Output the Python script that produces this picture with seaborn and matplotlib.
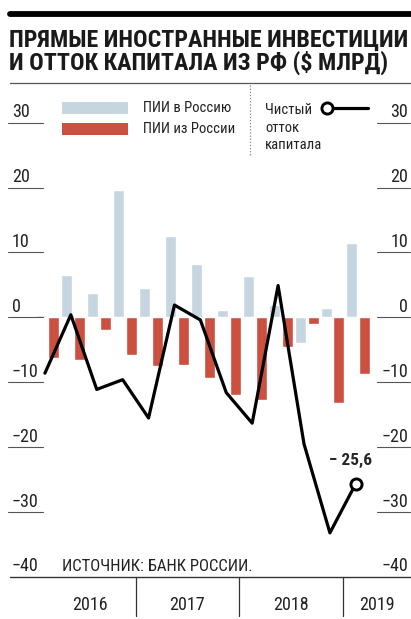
import numpy as np
import pandas as pd
import matplotlib
matplotlib.use("Agg")
import matplotlib.pyplot as plt
import matplotlib.transforms as mtransforms
from matplotlib.lines import Line2D
from matplotlib.patches import Rectangle
import seaborn as sns

# --- data ($ bn, quarterly, Bank of Russia) ---------------------------------
quarters = ["I.16", "II.16", "III.16", "IV.16",
            "I.17", "II.17", "III.17", "IV.17",
            "I.18", "II.18", "III.18", "IV.18",
            "I.19"]
years = ["2016", "2017", "2018", "2019"]
quarters_per_year = [4, 4, 4, 1]
fdi_in = [0.3, 6.5, 3.7, 19.7, 4.5, 12.5, 8.2, 1.2, 6.3, 1.9, -3.9, 1.4, 11.5]
fdi_out = [-6.3, -6.6, -1.9, -5.8, -7.5, -7.3, -9.3, -11.9, -12.8, -4.6, -1.0, -13.2, -8.8]
net_outflow = [-8.6, 0.4, -11.1, -9.6, -15.5, 1.9, -0.4, -11.6, -16.3, 4.9, -19.5, -33.2, -25.6]
yticks = [30, 20, 10, 0, -10, -20, -30, -40]

LBL_IN = "ПИИ в Россию"
LBL_OUT = "ПИИ из России"
BLUE = "#c6d6e0"
RED = "#cb5040"
GREY = "#555555"
LINE_SHIFT = -0.1

sns.set_theme(style="white")
plt.rcParams["font.family"] = ["Roboto Condensed", "DejaVu Sans"]

W, H = 411, 619
fig = plt.figure(figsize=(W / 100, H / 100), dpi=100)
fx = lambda px: px / W
fy = lambda py: 1 - py / H

ax = fig.add_axes([0, fy(577), 1, (577 - 85) / H])

df = pd.DataFrame({"quarter": quarters * 2,
                   "kind": [LBL_IN] * len(quarters) + [LBL_OUT] * len(quarters),
                   "value": fdi_in + fdi_out})
sns.barplot(data=df, x="quarter", y="value", hue="kind", hue_order=[LBL_IN, LBL_OUT],
            palette=[BLUE, RED], saturation=1, width=1.0, gap=0.15,
            legend=False, ax=ax)

xq = np.arange(len(quarters)) + LINE_SHIFT
sns.lineplot(x=xq, y=net_outflow, color="black", lw=2.3, ax=ax)
ax.plot(xq[-1], net_outflow[-1], "o", ms=8, mfc="white", mec="black", mew=2.1, zorder=5)
ax.annotate(f"− {abs(net_outflow[-1]):.1f}".replace(".", ","), (xq[-1], net_outflow[-1]),
            xytext=(-4, 13), textcoords="offset points", ha="center",
            fontsize=12.5, fontweight="bold")

ax.set_xlim(-1.834, 14.03)
ax.set_ylim(-40, 35.8)
ax.axis("off")

# --- y tick labels with short underlines on both sides ----------------------
tr = mtransforms.blended_transform_factory(fig.transFigure, ax.transData)
tr_txt = mtransforms.offset_copy(tr, fig=fig, y=4, units="points")
for v in yticks:
    s = f"−{abs(v)}" if v < 0 else str(v)
    ax.text(fx(12), v, s, transform=tr_txt, ha="left", va="baseline", fontsize=13, color="#222222")
    ax.text(fx(408), v, s, transform=tr_txt, ha="right", va="baseline", fontsize=13, color="#222222")
    if v != -40:
        ax.plot([fx(8), fx(43)], [v, v], transform=tr, color=GREY, lw=0.8, clip_on=False)
        ax.plot([fx(377), fx(410)], [v, v], transform=tr, color=GREY, lw=0.8, clip_on=False)

# --- header -----------------------------------------------------------------
fig.add_artist(Line2D([fx(10), 1], [fy(14), fy(14)], color="black", lw=4.2))
fig.text(fx(9), fy(47), "ПРЯМЫЕ ИНОСТРАННЫЕ ИНВЕСТИЦИИ", fontsize=17.3, fontweight="bold",
         va="baseline", color="#1a1a1a")
fig.text(fx(9), fy(70), "И ОТТОК КАПИТАЛА ИЗ РФ ($ МЛРД)", fontsize=17.3, fontweight="bold",
         va="baseline", color="#1a1a1a")
fig.add_artist(Line2D([fx(10), 1], [fy(83), fy(83)], color=GREY, lw=0.9))

# legend
for top, col, lbl in [(102, BLUE, LBL_IN), (123, RED, LBL_OUT)]:
    fig.add_artist(Rectangle((fx(62), fy(top + 12)), 66 / W, 12 / H,
                             transform=fig.transFigure, color=col, lw=0))
    fig.text(fx(143), fy(top + 6), lbl, fontsize=10.5, va="center", color="#222222")
fig.add_artist(Line2D([fx(250), fx(250)], [fy(85), fy(156)], color="#888888",
                      lw=0.9, ls=(0, (1, 1.5))))
for py, word in [(114, "Чистый"), (131.5, "отток"), (149, "капитала")]:
    fig.text(fx(265), fy(py), word, fontsize=10.5, va="baseline", color="#222222")
fig.add_artist(Line2D([fx(333), fx(368)], [fy(108), fy(108)], color="black", lw=2.3))
fig.add_artist(Line2D([fx(327)], [fy(108)], marker="o", ms=8, mfc="white",
                      mec="black", mew=2.1))

# --- footer -----------------------------------------------------------------
fig.text(fx(62), fy(571), "ИСТОЧНИК: БАНК РОССИИ.", fontsize=12, va="baseline", color="#222222")
fig.add_artist(Line2D([fx(10), 1], [fy(577), fy(577)], color="#333333", lw=1.0))
trx = mtransforms.blended_transform_factory(ax.transData, fig.transFigure)
edges = np.cumsum(quarters_per_year)[:-1] - 0.5 + LINE_SHIFT
for e in edges:
    ax.plot([e, e], [fy(577), fy(616)], transform=trx, color="#333333", lw=0.9, clip_on=False)
bounds = [-0.5 + LINE_SHIFT] + list(edges) + [ax.get_xlim()[1]]
for i, yr in enumerate(years):
    lo, hi = bounds[i], bounds[i + 1]
    if i == 0:
        lo = -0.5 - LINE_SHIFT * 4
    ax.text((lo + hi) / 2, fy(610), yr, transform=trx, ha="center", va="baseline",
            fontsize=13, color="#222222")

fig.savefig("out.png", dpi=100)
